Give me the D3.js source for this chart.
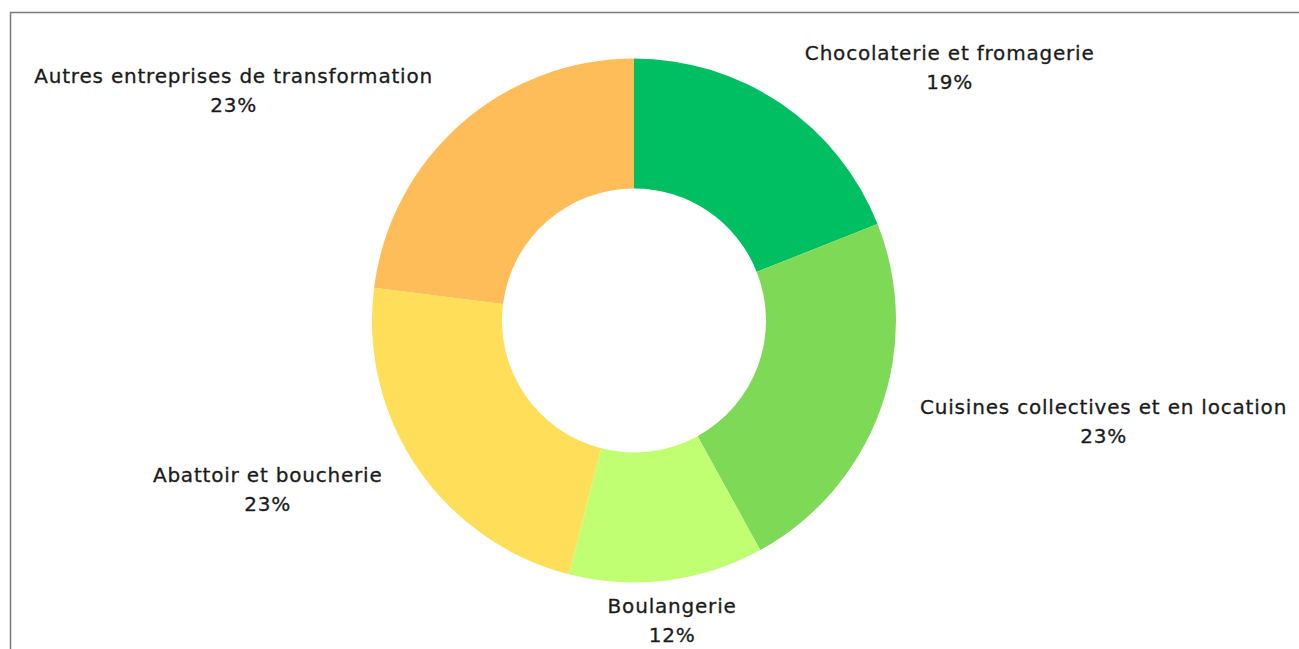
<!DOCTYPE html>
<html>
<head>
<meta charset="utf-8">
<script src="https://cdn.jsdelivr.net/npm/d3@7"></script>
<style>
  html, body { margin: 0; padding: 0; background: #fff; }
  svg { display: block; }
</style>
</head>
<body>
<div class="canvasDonut"></div>
<script>
// data, clockwise from 12 o'clock
const categories = [
    "Chocolaterie et fromagerie",
    "Cuisines collectives et en location",
    "Boulangerie",
    "Abattoir et boucherie",
    "Autres entreprises de transformation"
]
const shares = [19, 23, 12, 23, 23]
const colors = ["#00bf63", "#7ed957", "#c1ff72", "#ffde59", "#ffbd59"]

const drawChart = (width, height) => {

    const cx = 634
    const cy = 320.5
    const outer = 262
    const inner = 132
    const labelR = 304

    const data = categories.map((name, i) => ({name, value: shares[i], color: colors[i]}))

    const svg = d3.select(".canvasDonut").append("svg")
        .attr("width", width)
        .attr("height", height)

    // frame (left + top edges only)
    svg.append("path")
        .attr("d", `M10.5,${height} L10.5,12.5 L${width},12.5`)
        .attr("fill", "none")
        .attr("stroke", "#7a7a7a")
        .attr("stroke-width", 1.5)

    const graph = svg.append("g").attr("transform", `translate(${cx}, ${cy})`)

    const pie = d3.pie().sort(null).value(d => d.value)
    const arc = d3.arc().innerRadius(inner).outerRadius(outer)
    const labelArc = d3.arc().innerRadius(labelR).outerRadius(labelR)

    const arcs = pie(data)

    graph.selectAll("path.slice")
        .data(arcs)
        .enter().append("path")
        .attr("class", "slice")
        .attr("d", arc)
        .attr("fill", d => d.data.color)

    const labels = graph.selectAll("text.lbl")
        .data(arcs)
        .enter().append("text")
        .attr("class", "lbl")
        .attr("font-family", "DejaVu Sans, sans-serif")
        .attr("font-size", 20)
        .attr("letter-spacing", 0.8)
        .attr("fill", "#1b1b1b")
        .attr("stroke", "#1b1b1b")
        .attr("stroke-width", 0.3)
        .attr("text-anchor", d => {
            const mid = (d.startAngle + d.endAngle) / 2
            const s = Math.sin(mid)
            if (Math.abs(s) < 0.3) return "middle"
            return s > 0 ? "start" : "end"
        })
        .attr("transform", d => {
            const [x, y] = labelArc.centroid(d)
            return `translate(${x}, ${y})`
        })

    labels.append("tspan")
        .attr("x", 0)
        .attr("y", -9)
        .text(d => d.data.name)

    labels.append("tspan")
        .attr("x", (d, i, n) => {
            // percentage is centred under the name
            const anchor = d3.select(n[i].parentNode).attr("text-anchor")
            const w = n[i].parentNode.firstChild.getComputedTextLength()
            if (anchor === "start") return w / 2
            if (anchor === "end") return -w / 2
            return 0
        })
        .attr("y", 20)
        .attr("text-anchor", "middle")
        .text(d => d.data.value + "%")
}

drawChart(1299, 649)
</script>
</body>
</html>
